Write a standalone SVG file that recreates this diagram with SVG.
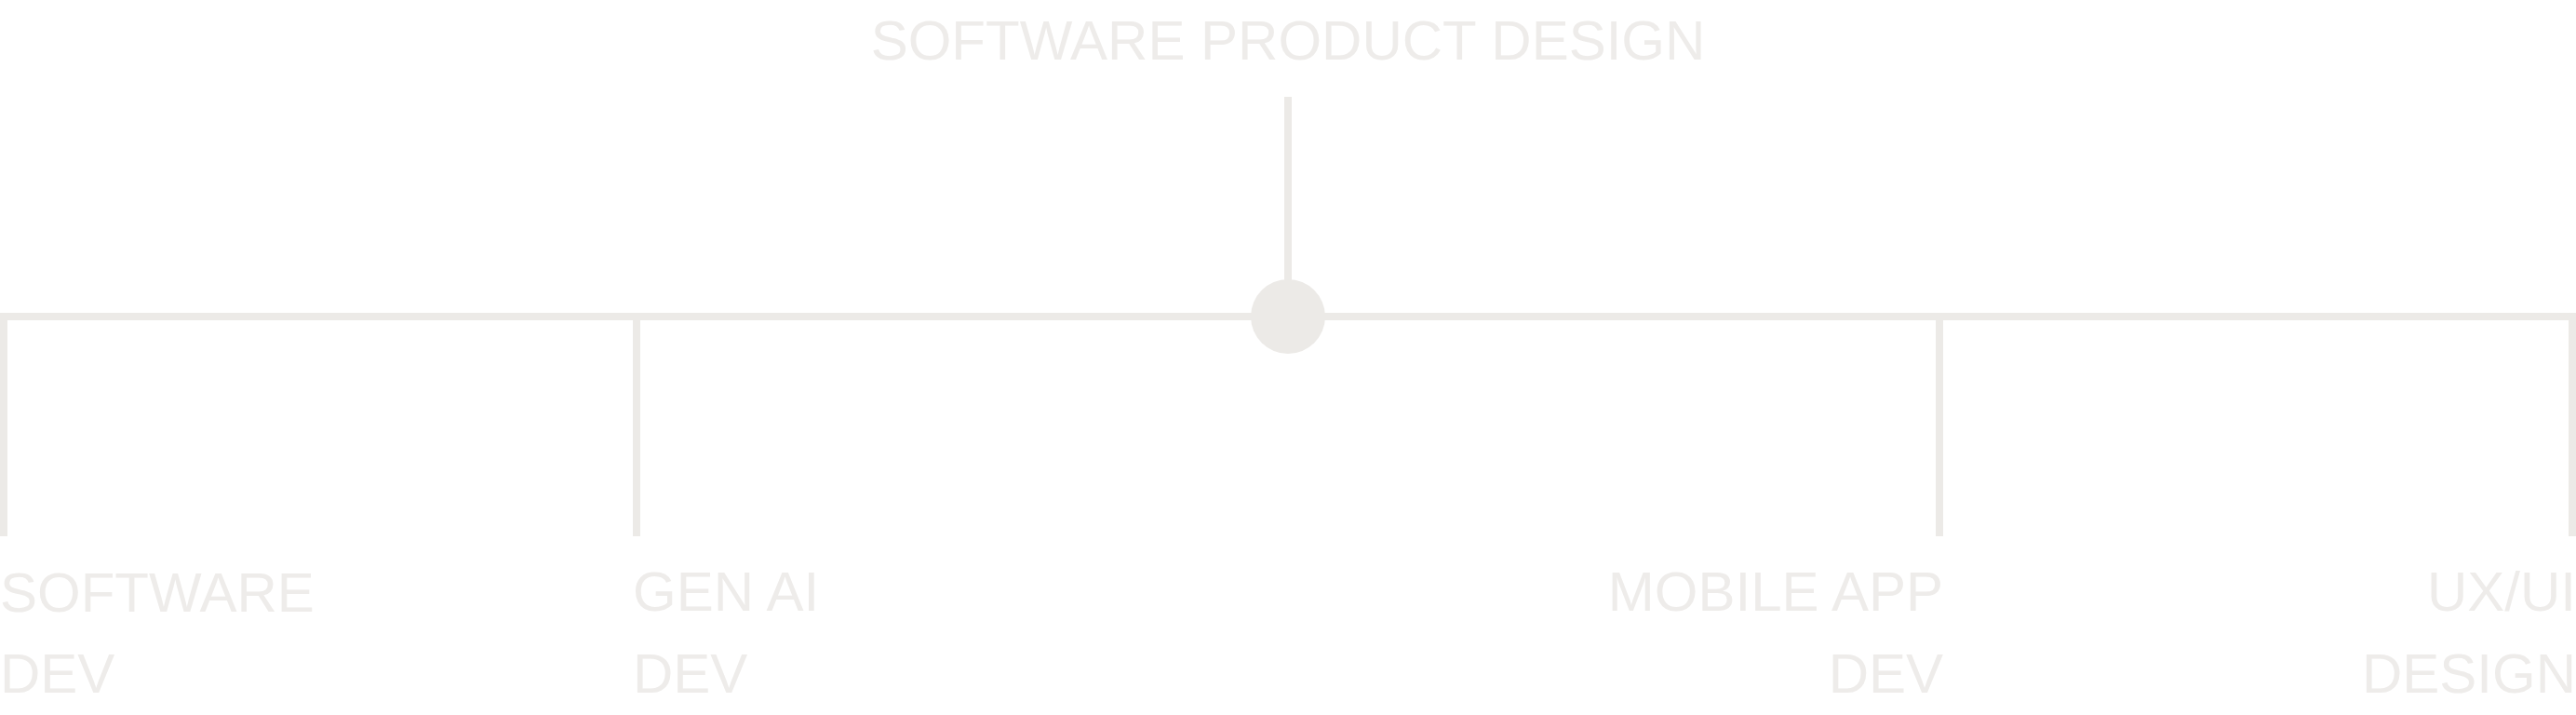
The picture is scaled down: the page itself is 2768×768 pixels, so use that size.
<svg xmlns="http://www.w3.org/2000/svg" width="2768" height="768" viewBox="0 0 2768 768">
  <style>
    .ln { stroke: #ECEAE7; stroke-width: 8; fill: none; stroke-linecap: butt; }
    .lbl { font-family: "Liberation Sans", Arial, sans-serif; font-size: 60px; fill: #EEECEA; }
    .end { text-anchor: end; }
    .mid { text-anchor: middle; }
  </style>
  <rect width="2768" height="768" fill="#FFFFFF"/>
  <g id="connectors">
    <line class="ln" x1="1384" y1="104" x2="1384" y2="340"/>
    <polyline class="ln" points="4,576 4,340 2764,340 2764,576"/>
    <line class="ln" x1="684" y1="340" x2="684" y2="576"/>
    <line class="ln" x1="2084" y1="340" x2="2084" y2="576"/>
  </g>
  <g id="hub">
    <circle cx="1384" cy="340" r="40" fill="#ECEAE7"/>
  </g>
  <g id="root">
    <text class="lbl mid" x="1384" y="64">SOFTWARE PRODUCT DESIGN</text>
  </g>
  <g id="software-dev">
    <text class="lbl" x="0" y="657">SOFTWARE</text>
    <text class="lbl" x="0" y="744">DEV</text>
  </g>
  <g id="gen-ai-dev">
    <text class="lbl" x="680" y="656">GEN AI</text>
    <text class="lbl" x="680" y="744">DEV</text>
  </g>
  <g id="mobile-app-dev">
    <text class="lbl end" x="2088" y="656">MOBILE APP</text>
    <text class="lbl end" x="2088" y="744">DEV</text>
  </g>
  <g id="ux-ui-design">
    <text class="lbl end" x="2768" y="656">UX/UI</text>
    <text class="lbl end" x="2768" y="744">DESIGN</text>
  </g>
</svg>
